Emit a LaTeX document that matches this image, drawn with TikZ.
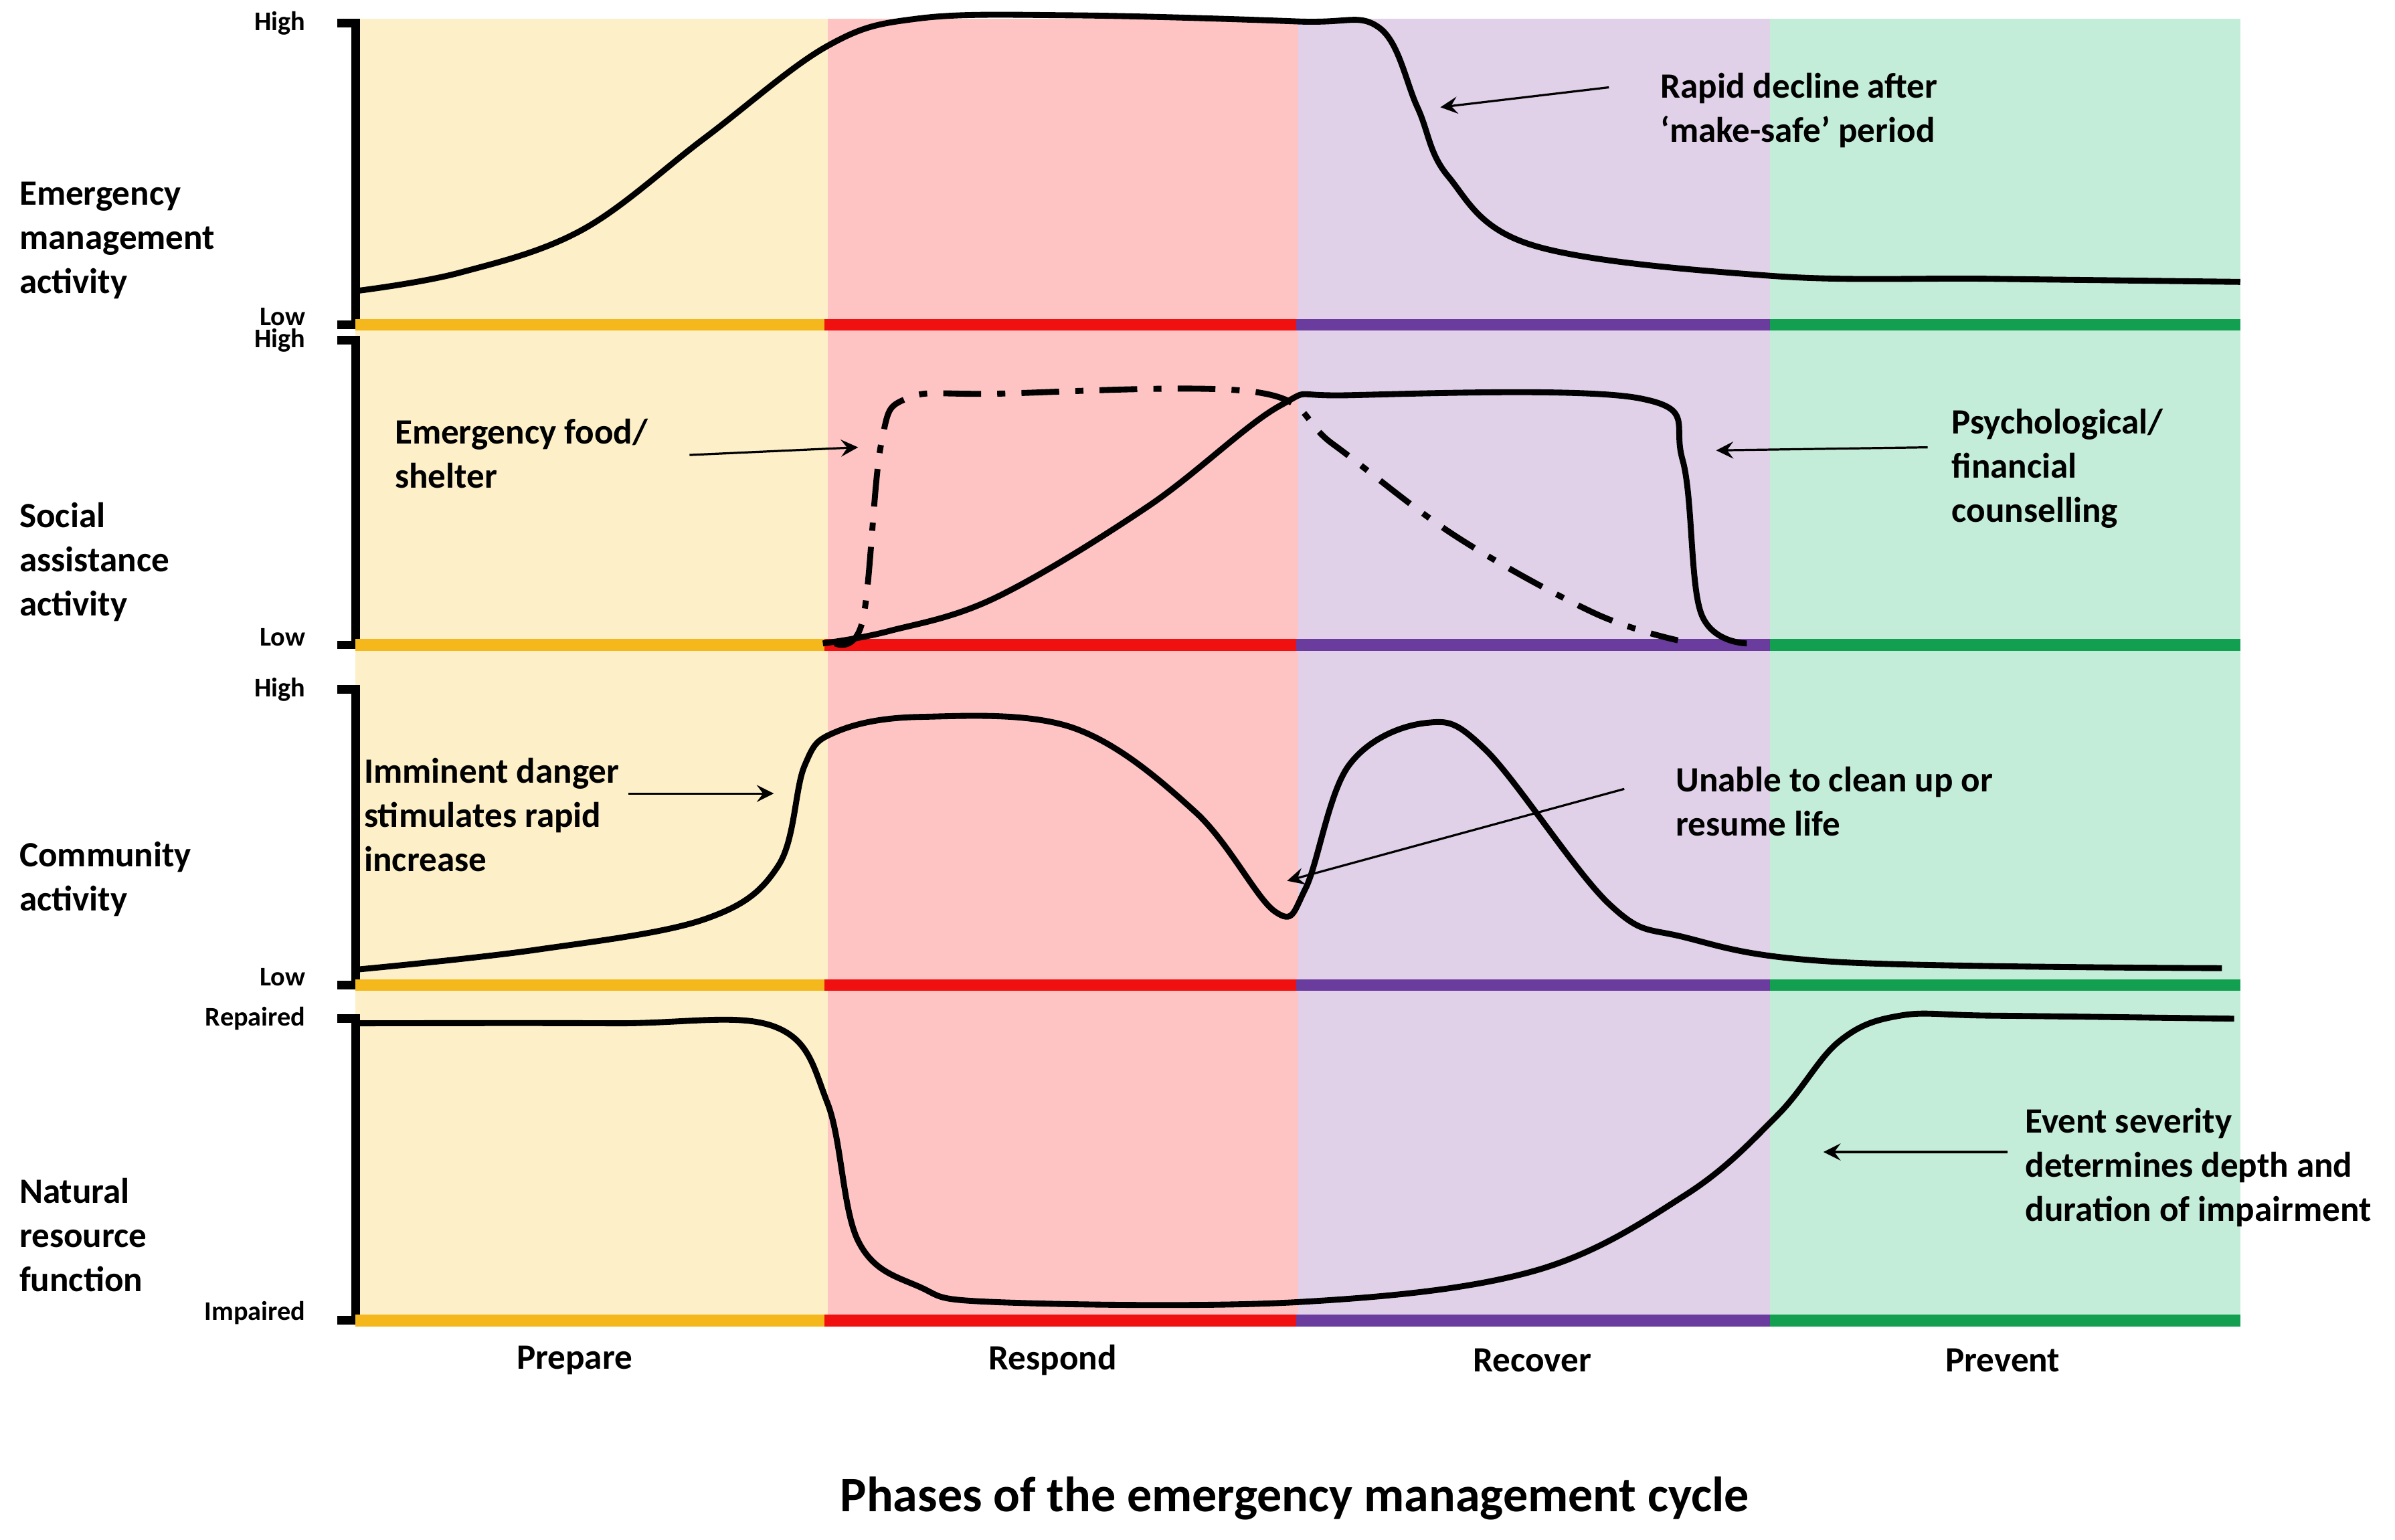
\documentclass[tikz,border=0pt]{standalone}
\usepackage{fontspec}
\setmainfont{Carlito}
\usetikzlibrary{positioning}
\definecolor{prepbg}{HTML}{FDF0C8}
\definecolor{respbg}{HTML}{FEC3C3}
\definecolor{recbg}{HTML}{E0D1E9}
\definecolor{prevbg}{HTML}{C4EDD9}
\definecolor{prepbar}{HTML}{F4B81C}
\definecolor{respbar}{HTML}{F01010}
\definecolor{recbar}{HTML}{6A3C9E}
\definecolor{prevbar}{HTML}{12A050}
\tikzset{
  lbl/.style={font=\fontsize{6.6}{8.2}\selectfont\bfseries, align=left, anchor=west, inner sep=0pt},
  axl/.style={font=\fontsize{5}{6}\selectfont\bfseries, anchor=east, inner sep=0pt},
  curve/.style={line width=1.1pt, smooth, tension=0.6},
  note/.style={->, >=stealth, thin}
}
% one baseline with the four coloured bars and the axis bracket
\newcommand{\panel}[4]{
  \draw[line width=1.6pt] (220,#1)--(232,#1)--(232,#2)--(220,#2);
  \draw[line width=2.2pt, prepbar] (232,#2)--(538,#2);
  \draw[line width=2.2pt, respbar] (538,#2)--(846,#2);
  \draw[line width=2.2pt, recbar] (846,#2)--(1155,#2);
  \draw[line width=2.2pt, prevbar] (1155,#2)--(1462,#2);
  \node[axl] at (200,#1) {#3};
  \node[axl] at (200,#2-5) {#4};
}
\begin{document}
\begin{tikzpicture}[x=0.01cm, y=-0.01cm]
  \useasboundingbox (0,0) rectangle (1563,1005);

  % phases
  % ======
  \fill[prepbg] (232,12) rectangle (540,865);
  \fill[respbg] (540,12) rectangle (847,865);
  \fill[recbg] (847,12) rectangle (1155,865);
  \fill[prevbg] (1155,12) rectangle (1462,865);

  \panel{15}{212}{High}{Low}
  \panel{222}{421}{High}{Low}
  \panel{450}{643}{High}{Low}
  \panel{665}{862}{Repaired}{Impaired}

  % Emergency management
  % --------------------
  \draw[curve] plot coordinates {(232,190) (300,178) (380,150) (460,90) (540,30) (600,12)
    (700,10) (847,14) (900,18) (925,70) (945,115) (1000,160) (1155,180) (1300,182) (1462,184)};
  \node[lbl] (rapid) at (1083,72) {Rapid decline after\\‘make-safe’ period};
  \coordinate (rapidS) at (1050,57);
  \coordinate (rapidE) at (940,70);
  \draw[note] (rapidS)--(rapidE);

  % Social assistance
  % -----------------
  \draw[curve] plot coordinates {(537,420) (580,412) (650,390) (750,330) (835,265) (880,258)
    (1070,260) (1098,300) (1110,400) (1140,420)};
  \draw[curve, dash pattern=on 7pt off 3pt on 1.5pt off 3pt] plot coordinates {(545,420) (563,405)
    (575,290) (592,260) (650,257) (820,256) (870,290) (950,350) (1040,400) (1095,418)};
  \node[lbl] (food) at (257,296) {Emergency food/\\shelter};
  \coordinate (foodS) at (450,297);
  \coordinate (foodE) at (560,292);
  \draw[note] (foodS)--(foodE);
  \node[lbl] (psy) at (1273,306) {Psychological/\\financial\\counselling};
  \coordinate (psyS) at (1258,292);
  \coordinate (psyE) at (1120,294);
  \draw[note] (psyS)--(psyE);

  % Community
  % ---------
  \draw[curve] plot coordinates {(232,633) (350,620) (460,600) (508,565) (525,500) (545,478)
    (600,468) (700,475) (780,530) (832,595) (852,580) (880,500) (930,472) (970,490)
    (1050,590) (1100,612) (1200,628) (1450,632)};
  \node[lbl] (danger) at (237,532) {Imminent danger\\stimulates rapid\\increase};
  \coordinate (dangerS) at (410,518);
  \coordinate (dangerE) at (505,518);
  \draw[note] (dangerS)--(dangerE);
  \node[lbl] (unable) at (1093,523) {Unable to clean up or\\resume life};
  \coordinate (unableS) at (1060,515);
  \coordinate (unableE) at (840,575);
  \draw[note] (unableS)--(unableE);

  % Natural resource
  % ----------------
  \draw[curve] plot coordinates {(232,668) (400,668) (505,670) (540,720) (560,810) (600,840)
    (650,850) (847,850) (1000,830) (1100,780) (1160,728) (1200,680) (1240,663) (1300,663) (1458,665)};
  \node[lbl] (sev) at (1321,762) {Event severity\\determines depth and\\duration of impairment};
  \coordinate (sevS) at (1310,752);
  \coordinate (sevE) at (1190,752);
  \draw[note] (sevS)--(sevE);

  % row labels
  % ----------
  \node[lbl] at (12,157) {Emergency\\management\\activity};
  \node[lbl] at (12,367) {Social\\assistance\\activity};
  \node[lbl] at (12,574) {Community\\activity};
  \node[lbl] at (12,806) {Natural\\resource\\function};

  % phase names
  \foreach \x/\t in {375/Prepare, 687/Respond, 1000/Recover, 1307/Prevent}
    \node[lbl, anchor=center] at (\x,888) {\t};
  \node[font=\fontsize{9.2}{11}\selectfont\bfseries, inner sep=0pt] (title) at (845,978)
    {Phases of the emergency management cycle};
\end{tikzpicture}
\end{document}
